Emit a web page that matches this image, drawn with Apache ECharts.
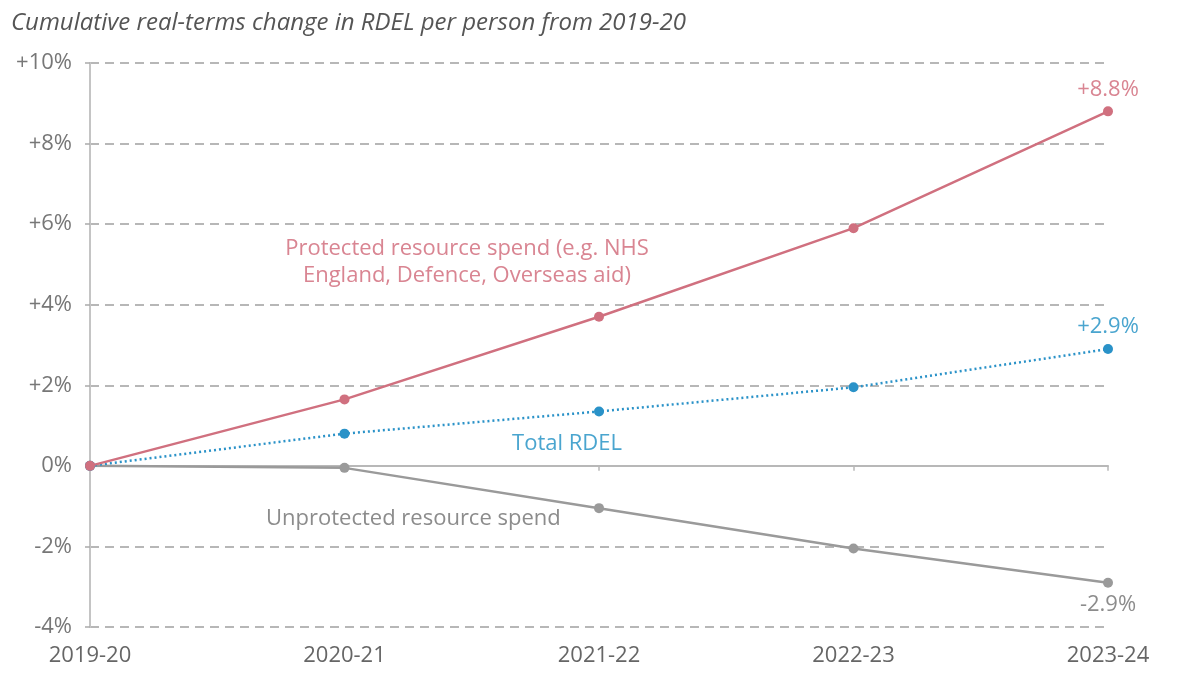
<!DOCTYPE html>
<html>
<head>
<meta charset="utf-8">
<script src="https://cdn.jsdelivr.net/npm/echarts@6/dist/echarts.min.js"></script>
<style>
  html, body { margin: 0; padding: 0; background: #fff; }
  #chart { width: 1184px; height: 700px; }
</style>
</head>
<body>
<div id="chart"></div>
<script>
// Financial years on the horizontal axis
const years = ['2019-20', '2020-21', '2021-22', '2022-23', '2023-24'];

// Cumulative real-terms change in RDEL per person (%), from 2019-20
const protectedSpend = [0, 1.65, 3.7, 5.9, 8.8];
const totalRdel = [0, 0.8, 1.35, 1.95, 2.9];
const unprotectedSpend = [0, -0.05, -1.05, -2.05, -2.9];

// Value axis range and step
const yMin = -4, yMax = 10, yStep = 2;

const FONT = '"Open Sans", Lato, sans-serif';
const RED = '#d0707f', RED_TXT = '#d98592';
const BLUE = '#2a92c8', BLUE_TXT = '#4aa5cf';
const GREY = '#9a9a9a', GREY_TXT = '#8c8c8c';

function pctLabel(v) {
  if (v === 0) return '0%';
  return (v > 0 ? '+' : '') + v + '%';
}

function lastLabel(color, position) {
  return {
    show: true,
    position: position,
    distance: 6,
    color: color,
    fontFamily: FONT,
    fontSize: 22,
    formatter: p => p.dataIndex === years.length - 1 ? pctLabel(p.value) : ''
  };
}

const chart = echarts.init(document.getElementById('chart'), null, { renderer: 'canvas' });

chart.setOption({
  animation: false,
  backgroundColor: '#ffffff',
  title: {
    text: 'Cumulative real-terms change in RDEL per person from 2019-20',
    left: 6,
    top: 6,
    textStyle: { fontFamily: FONT, fontStyle: 'italic', fontWeight: 'normal', fontSize: 24, color: '#555' }
  },
  grid: { left: 90, right: 76, top: 63, bottom: 73, containLabel: false },
  xAxis: [
    {
      // labels along the bottom edge
      type: 'category',
      data: years,
      boundaryGap: false,
      position: 'bottom',
      axisLine: { show: false, onZero: false },
      axisTick: { show: false },
      axisLabel: { color: '#666', fontFamily: FONT, fontSize: 22, margin: 18 }
    },
    {
      // zero line with its category ticks
      type: 'category',
      data: years,
      boundaryGap: false,
      position: 'bottom',
      axisLine: { show: true, onZero: true, lineStyle: { color: '#b8b8b8', width: 2 } },
      axisTick: { show: true, length: 5, lineStyle: { color: '#b8b8b8', width: 1.5 } },
      axisLabel: { show: false }
    }
  ],
  yAxis: {
    type: 'value',
    min: yMin,
    max: yMax,
    interval: yStep,
    axisLine: { show: true, lineStyle: { color: '#c4c4c4', width: 2 } },
    axisTick: { show: true, length: 5, lineStyle: { color: '#aaa', width: 1.5 } },
    axisLabel: { color: '#777', fontFamily: FONT, fontSize: 22, margin: 18, formatter: v => v === 0 ? '0%' : (v > 0 ? '+' + v + '%' : v + '%') },
    splitLine: { show: true, lineStyle: { color: '#a0a0a0', width: 1.5, type: [9, 6] } }
  },
  series: [
    {
      name: 'Unprotected resource spend',
      type: 'line',
      xAxisIndex: 1,
      data: unprotectedSpend,
      symbol: 'circle',
      symbolSize: 10,
      lineStyle: { color: GREY, width: 2.5 },
      itemStyle: { color: GREY },
      label: lastLabel(GREY_TXT, 'bottom'),
      z: 3
    },
    {
      name: 'Total RDEL',
      type: 'line',
      xAxisIndex: 1,
      data: totalRdel,
      symbol: 'circle',
      symbolSize: 10,
      lineStyle: { color: BLUE, width: 2.5, type: [2, 3] },
      itemStyle: { color: BLUE },
      label: lastLabel(BLUE_TXT, 'top'),
      z: 4
    },
    {
      name: 'Protected resource spend',
      type: 'line',
      xAxisIndex: 1,
      data: protectedSpend,
      symbol: 'circle',
      symbolSize: 10,
      lineStyle: { color: RED, width: 2.5 },
      itemStyle: { color: RED },
      label: lastLabel(RED_TXT, 'top'),
      z: 5
    }
  ],
  graphic: [
    {
      type: 'text', x: 467, y: 262,
      style: {
        text: 'Protected resource spend (e.g. NHS\nEngland, Defence, Overseas aid)',
        fill: RED_TXT, font: '22px ' + FONT, align: 'center', verticalAlign: 'middle', lineHeight: 27
      }
    },
    {
      type: 'text', x: 567, y: 444,
      style: { text: 'Total RDEL', fill: BLUE_TXT, font: '22px ' + FONT, align: 'center', verticalAlign: 'middle' }
    },
    {
      type: 'text', x: 266, y: 519,
      style: { text: 'Unprotected resource spend', fill: GREY_TXT, font: '22px ' + FONT, align: 'left', verticalAlign: 'middle' }
    }
  ]
});
</script>
</body>
</html>
